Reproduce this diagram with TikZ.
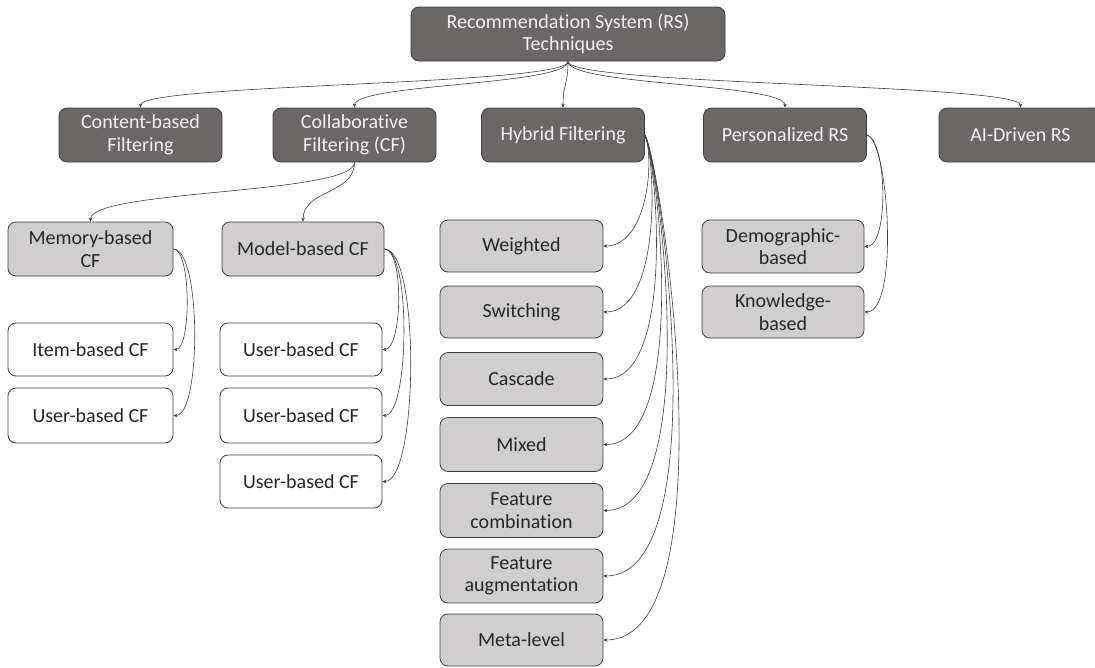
\documentclass[tikz,border=0pt]{standalone}
\usepackage{fontspec}
\setmainfont{Carlito}[Ligatures=CommonOff]
\usetikzlibrary{arrows.meta}
\definecolor{darkfill}{HTML}{6B6767}
\definecolor{lightfill}{HTML}{D0CECE}
\definecolor{edgecol}{HTML}{3F3F3F}
\definecolor{darktext}{HTML}{262626}
\definecolor{lighttext}{HTML}{F2F2F2}
\tikzset{
  box/.style={rectangle, rounded corners=8pt, draw=edgecol, line width=0.8pt,
    inner sep=0pt, align=center, minimum height=54pt, minimum width=163pt,
    font=\fontsize{20}{22.5}\selectfont},
  darkbox/.style={box, fill=darkfill, text=lighttext},
  lightbox/.style={box, fill=lightfill, text=darktext},
  whitebox/.style={box, fill=white, text=darktext},
  conn/.style={draw=edgecol, line width=0.6pt, -{Stealth[length=4pt,width=3.5pt]}}
}
\begin{document}
\begin{tikzpicture}[x=1pt,y=-1pt]
\useasboundingbox (0,0) rectangle (1095,667);
% top
\node[darkbox, minimum width=314pt] (top) at (568,34) {Recommendation System (RS)\\Techniques};
% second row
\node[darkbox] (cb) at (140.5,135) {Content-based\\Filtering};
\node[darkbox] (cf) at (354.5,135) {Collaborative\\Filtering (CF)};
\node[darkbox] (hy) at (563,135) {Hybrid Filtering};
\node[darkbox] (pr) at (785,135) {Personalized RS};
\node[darkbox] (ai) at (1020.5,135) {AI-Driven RS};
% CF children
\node[lightbox, minimum width=165pt] (mem) at (90.5,249) {Memory-based\\CF};
\node[lightbox, minimum width=162pt] (mod) at (303,249) {Model-based CF};
\node[whitebox, minimum width=165pt, minimum height=53pt] (item) at (90.5,349.5) {Item-based CF};
\node[whitebox, minimum width=165pt, minimum height=55pt] (ul) at (90.5,415.5) {User-based CF};
\node[whitebox, minimum width=162pt, minimum height=53pt] (u1) at (301,349.5) {User-based CF};
\node[whitebox, minimum width=162pt, minimum height=55pt] (u2) at (301,415.5) {User-based CF};
\node[whitebox, minimum width=162pt, minimum height=53pt] (u3) at (301,481.5) {User-based CF};
% hybrid children
\node[lightbox, minimum height=52pt] (h1) at (521.5,246) {Weighted};
\node[lightbox, minimum height=52pt] (h2) at (521.5,312) {Switching};
\node[lightbox, minimum height=53pt] (h3) at (521.5,379) {Cascade};
\node[lightbox, minimum height=54pt] (h4) at (521.5,444.5) {Mixed};
\node[lightbox, minimum height=54pt] (h5) at (521.5,510.5) {Feature\\combination};
\node[lightbox, minimum height=54pt] (h6) at (521.5,576) {Feature\\augmentation};
\node[lightbox, minimum height=52pt] (h7) at (521.5,640) {Meta-level};
% personalized children
\node[lightbox, minimum width=162pt, minimum height=53pt] (p1) at (783,246.5) {Demographic-\\based};
\node[lightbox, minimum width=162pt, minimum height=52pt] (p2) at (783,312) {Knowledge-\\based};
% top connectors
\foreach \t in {cb,cf,hy,pr,ai}
  \draw[conn] (top.south) .. controls +(0,24) and +(0,-24) .. (\t.north);
% CF connectors
\draw[conn] (cf.south) .. controls +(0,32) and +(0,-32) .. (mem.north);
\draw[conn] (cf.south) .. controls +(0,32) and +(0,-32) .. (mod.north);
% memory / model loops
\draw[conn] (mem.east) .. controls +(18,0) and +(18,0) .. (item.east);
\draw[conn] (mem.east) .. controls +(28,0) and +(28,0) .. (ul.east);
\draw[conn] (mod.east) .. controls +(20,0) and +(20,0) .. (u1.east);
\draw[conn] (mod.east) .. controls +(27,0) and +(27,0) .. (u2.east);
\draw[conn] (mod.east) .. controls +(36,0) and +(36,0) .. (u3.east);
% hybrid loops
\draw[conn] (hy.east) .. controls +(10,25) and +(44,0) .. (h1.east);
\draw[conn] (hy.east) .. controls +(11,25) and +(58,0) .. (h2.east);
\draw[conn] (hy.east) .. controls +(12,25) and +(72,0) .. (h3.east);
\draw[conn] (hy.east) .. controls +(13,25) and +(86,0) .. (h4.east);
\draw[conn] (hy.east) .. controls +(14,25) and +(100,0) .. (h5.east);
\draw[conn] (hy.east) .. controls +(15,25) and +(114,0) .. (h6.east);
\draw[conn] (hy.east) .. controls +(16,25) and +(128,0) .. (h7.east);
% personalized loops
\draw[conn] (pr.east) .. controls +(20,5) and +(25,0) .. (p1.east);
\draw[conn] (pr.east) .. controls +(22,5) and +(35,0) .. (p2.east);
\end{tikzpicture}
\end{document}
